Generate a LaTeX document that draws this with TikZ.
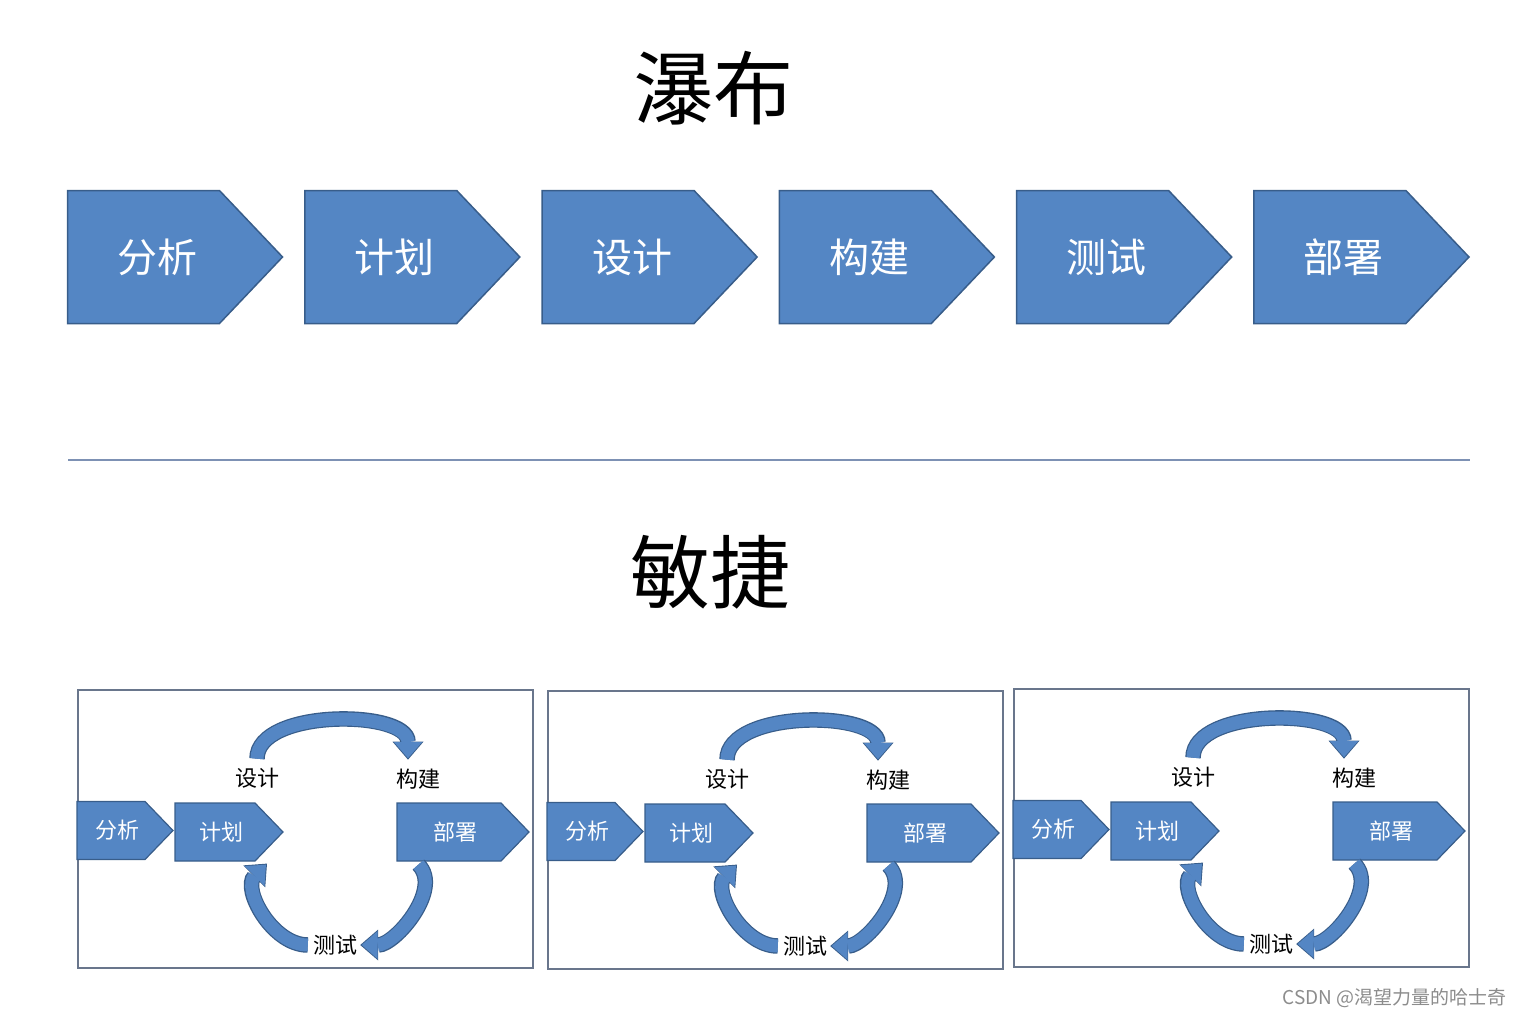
\documentclass[tikz,border=0pt]{standalone}
\usepackage{fontspec}
\setmainfont{Noto Sans CJK SC}
\usetikzlibrary{positioning,shapes.symbols,arrows.meta}
\definecolor{stepblue}{RGB}{84,134,196}
\definecolor{stepline}{RGB}{56,93,138}
\definecolor{framegray}{RGB}{105,118,140}
\definecolor{rulecol}{RGB}{125,145,180}

\begin{document}
\begin{tikzpicture}[x=1pt, y=-1pt,
	phase/.style={signal, signal to=east, signal pointer angle=93, draw=stepline, line width=1.5pt, fill=stepblue, text=white, inner sep=0pt, minimum width=215pt, minimum height=133pt, font=\fontsize{40}{48}\selectfont, execute at begin node=\hspace*{28pt}},
	mini/.style={signal, signal to=east, signal pointer angle=92, draw=stepline, line width=1.2pt, fill=stepblue, text=white, inner sep=0pt, minimum height=58pt, font=\fontsize{22}{26}\selectfont, execute at begin node=\hspace*{13pt}},
	tag/.style={font=\fontsize{22}{26}\selectfont, inner sep=1pt},
	cyc/.style={draw=stepblue, line width=13pt, shorten >=1.5pt, -{Triangle[width=28pt,length=16pt,line width=0pt]},
		preaction={draw=stepline, line width=15.5pt, shorten >=0pt, -{Triangle[width=31pt,length=18pt,line width=0pt]}}},
	frame/.style={draw=framegray, line width=2pt, minimum width=455pt, minimum height=278pt, inner sep=0pt}]
	\useasboundingbox (0,0) rectangle (1526,1018);

	% waterfall
	\node[font=\fontsize{80}{96}\selectfont] (wf) at (713,88) {瀑布};
	\node[phase] (fx) at (143.5,257) {分析};
	\node[phase, right=20.5pt of fx] (jh) {计划};
	\node[phase, right=20.5pt of jh] (sj) {设计};
	\node[phase, right=20.5pt of sj] (gj) {构建};
	\node[phase, right=20.5pt of gj] (cs) {测试};
	\node[phase, right=20.5pt of cs] (bs) {部署};

	\draw[rulecol, line width=1.5pt] (68,460) -- (1470,460);

	% agile
	\node[font=\fontsize{80}{96}\selectfont] (mj) at (710,572) {敏捷};
	\foreach \i/\bx/\by in {1/77/689, 2/547/690, 3/1013/688}{
		\node[frame, anchor=north west] (box\i) at (\bx,\by) {};
		\node[mini, minimum width=96pt] (fx\i) at (\bx+34,\by+141.5) {分析};
		\node[mini, minimum width=108pt] (jh\i) at (\bx+138,\by+143) {计划};
		\node[mini, minimum width=132pt] (bs\i) at (\bx+372,\by+143) {部署};
		\node[tag] (sj\i) at (\bx+180,\by+89) {设计};
		\node[tag] (gj\i) at (\bx+341,\by+90) {构建};
		\node[tag] (cs\i) at (\bx+258,\by+256) {测试};
		\draw[cyc] ([yshift=8pt]sj\i.north) to[out=90,in=90,looseness=0.85] ([xshift=-10pt,yshift=8pt]gj\i.north);
		\draw[cyc] ([xshift=22pt,yshift=-3pt]bs\i.south west) to[out=-45,in=0,looseness=0.9] ([xshift=2pt]cs\i.east);
		\draw[cyc] ([xshift=-4pt]cs\i.west) to[out=180,in=-135] ([xshift=52pt,yshift=-2pt]jh\i.south);
	}

	\node[text=black!45, font=\fontsize{19}{23}\selectfont, anchor=east] (wm) at (1510,998) {CSDN @渴望力量的哈士奇};
\end{tikzpicture}
\end{document}
